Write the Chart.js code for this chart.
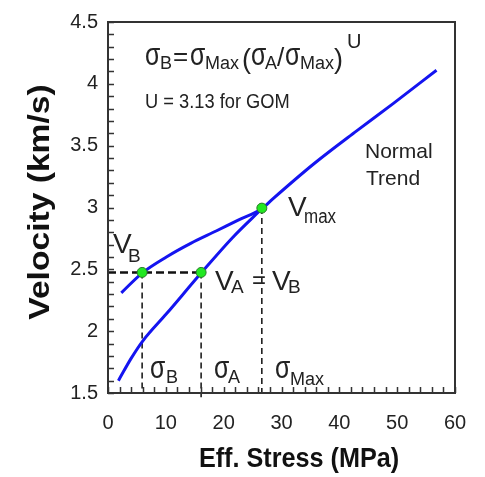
<!DOCTYPE html>
<html>
<head>
<meta charset="utf-8">
<script src="https://cdn.jsdelivr.net/npm/chart.js@4/dist/chart.umd.min.js"></script>
<style>
  html, body { margin: 0; padding: 0; background: #fff; }
  #wrap { width: 485px; height: 477px; }
</style>
</head>
<body>
<div id="wrap"><canvas id="chartVel"></canvas></div>
<script>
// normal trend (loading) curve
const normalStress = [2.3, 5.9, 10.1, 14.3, 18.7, 22.6, 26.6, 28.5, 35.5, 43.0, 49.3, 56.8];
const normalVel = [2.31, 2.47, 2.6, 2.71, 2.81, 2.9, 2.99, 3.07, 3.35, 3.62, 3.84, 4.11];
// unloading curve
const unloadStress = [1.8, 4.0, 6.0, 10.1, 16.1, 21.6, 26.6];
const unloadVel = [1.6, 1.78, 1.92, 2.14, 2.47, 2.76, 2.99];
// marked points: sigma B, sigma A, sigma Max
const markStress = [5.9, 16.1, 26.6];
const markVel = [2.475, 2.475, 2.995];
const xTicks = [0, 10, 20, 30, 40, 50, 60];
const yTicks = [1.5, 2, 2.5, 3, 3.5, 4, 4.5];

const FONT = "'Liberation Sans', Arial, sans-serif";
const toXY = (xs, ys) => xs.map((x, i) => ({ x: x, y: ys[i] }));

const dashH = { borderColor: "#111", borderWidth: 2.5, borderDash: [8, 4], pointRadius: 0, showLine: true, order: 3 };
const dashV = { borderColor: "#111", borderWidth: 1.5, borderDash: [6, 4], pointRadius: 0, showLine: true, order: 3 };

function txt(ctx, s, x, y, size, o) {
  o = o || {};
  ctx.save();
  ctx.font = (o.bold ? "bold " : "") + size + "px " + FONT;
  ctx.fillStyle = o.color || "#222";
  ctx.textBaseline = "alphabetic";
  ctx.textAlign = o.align || "left";
  ctx.translate(x, y);
  if (o.rot) ctx.rotate(o.rot);
  ctx.scale(o.sx || 1, 1);
  ctx.fillText(s, 0, 0);
  ctx.restore();
}
// sigma glyph, narrowed to match the original symbol font
const sig = (ctx, x, y) => txt(ctx, "σ", x, y, 31, { sx: 0.8 });

const decor = {
  id: "decor",
  afterDraw(chart) {
    const ctx = chart.ctx;
    const a = chart.chartArea;
    const xs = chart.scales.x, ys = chart.scales.y;

    // inward minor ticks
    ctx.save();
    ctx.strokeStyle = "#333";
    ctx.lineWidth = 1.5;
    ctx.beginPath();
    for (let v = 0; v <= 60; v += 2) {
      const px = Math.round(xs.getPixelForValue(v)) + 0.5;
      ctx.moveTo(px, a.bottom);
      ctx.lineTo(px, a.bottom - 6);
    }
    for (let k = 15; k <= 45; k++) {
      const py = Math.round(ys.getPixelForValue(k / 10)) + 0.5;
      ctx.moveTo(a.left, py);
      ctx.lineTo(a.left + 6, py);
    }
    ctx.stroke();
    // frame
    ctx.lineWidth = 2;
    ctx.strokeRect(a.left, a.top, a.right - a.left, a.bottom - a.top);
    ctx.restore();

    // axis titles
    txt(ctx, "Velocity (km/s)", 49, 202, 30, { bold: true, align: "center", rot: -Math.PI / 2, sx: 1.12, color: "#111" });
    txt(ctx, "Eff. Stress (MPa)", 299, 467, 28, { bold: true, align: "center", sx: 0.9, color: "#111" });

    // formula
    sig(ctx, 145, 65);
    txt(ctx, "B", 160, 69, 18);
    txt(ctx, "=", 173, 65, 26);
    sig(ctx, 190, 65);
    txt(ctx, "Max", 205, 69, 18);
    txt(ctx, "(", 242, 68, 27);
    sig(ctx, 251, 65);
    txt(ctx, "A", 265, 69, 18);
    txt(ctx, "/", 277, 66, 26);
    sig(ctx, 285, 65);
    txt(ctx, "Max", 300, 69, 18);
    txt(ctx, ")", 334, 68, 27);
    txt(ctx, "U", 347, 48, 20);
    txt(ctx, "U = 3.13 for GOM", 145, 108, 21, { sx: 0.87 });

    txt(ctx, "Normal", 365, 158, 21);
    txt(ctx, "Trend", 366, 185, 21);

    // point labels
    txt(ctx, "V", 288, 216, 28);
    txt(ctx, "max", 304, 223, 20, { sx: 0.85 });
    txt(ctx, "V", 113, 253, 28);
    txt(ctx, "B", 128, 262, 19);
    txt(ctx, "V", 215, 290, 28);
    txt(ctx, "A", 231, 293, 19);
    txt(ctx, "=", 252, 288, 24);
    txt(ctx, "V", 272, 290, 28);
    txt(ctx, "B", 288, 293, 19);

    sig(ctx, 150, 378);
    txt(ctx, "B", 166, 383, 18);
    sig(ctx, 214, 378);
    txt(ctx, "A", 228, 383, 18);
    sig(ctx, 275, 378);
    txt(ctx, "Max", 290, 385, 18);
  }
};

document.addEventListener("DOMContentLoaded", function () {
  const ctx = document.getElementById("chartVel");
  new Chart(ctx, {
    type: "scatter",
    data: {
      datasets: [
        {
          label: "Markers",
          data: toXY(markStress, markVel),
          pointRadius: 5,
          pointBackgroundColor: "#22e822",
          pointBorderColor: "#2a7a2a",
          pointBorderWidth: 1,
          order: 0
        },
        {
          label: "Normal Trend",
          data: toXY(normalStress, normalVel),
          showLine: true,
          borderColor: "#1414f0",
          borderWidth: 3,
          pointRadius: 0,
          cubicInterpolationMode: "monotone",
          order: 1
        },
        {
          label: "Unloading",
          data: toXY(unloadStress, unloadVel),
          showLine: true,
          borderColor: "#1414f0",
          borderWidth: 3,
          pointRadius: 0,
          cubicInterpolationMode: "monotone",
          order: 1
        },
        Object.assign({ data: [{ x: 0, y: markVel[0] }, { x: markStress[1], y: markVel[1] }] }, dashH),
        Object.assign({ data: [{ x: markStress[0], y: markVel[0] }, { x: markStress[0], y: 1.5 }] }, dashV),
        Object.assign({ data: [{ x: markStress[1], y: markVel[1] }, { x: markStress[1], y: 1.465 }], clip: false }, dashV),
        Object.assign({ data: [{ x: markStress[2], y: markVel[2] }, { x: markStress[2], y: 1.5 }] }, dashV)
      ]
    },
    options: {
      responsive: true,
      maintainAspectRatio: false,
      animation: false,
      layout: { padding: { left: 0, top: 19, right: 30, bottom: 0 } },
      plugins: {
        legend: { display: false },
        tooltip: { enabled: false }
      },
      scales: {
        x: {
          type: "linear",
          min: 0,
          max: 60,
          afterFit: (s) => { s.height = 84; },
          afterBuildTicks: (s) => { s.ticks = xTicks.map(v => ({ value: v })); },
          grid: { display: false, drawTicks: false },
          border: { display: false },
          ticks: {
            padding: 18,
            maxRotation: 0,
            autoSkip: false,
            color: "#222",
            font: { family: FONT, size: 20 }
          }
        },
        y: {
          type: "linear",
          min: 1.5,
          max: 4.5,
          afterFit: (s) => { s.width = 108; },
          afterBuildTicks: (s) => { s.ticks = yTicks.map(v => ({ value: v })); },
          grid: { display: false, drawTicks: false },
          border: { display: false },
          ticks: {
            padding: 10,
            autoSkip: false,
            color: "#222",
            font: { family: FONT, size: 20 },
            callback: (v) => String(Math.round(v * 10) / 10)
          }
        }
      }
    },
    plugins: [decor]
  });
});
</script>
</body>
</html>
